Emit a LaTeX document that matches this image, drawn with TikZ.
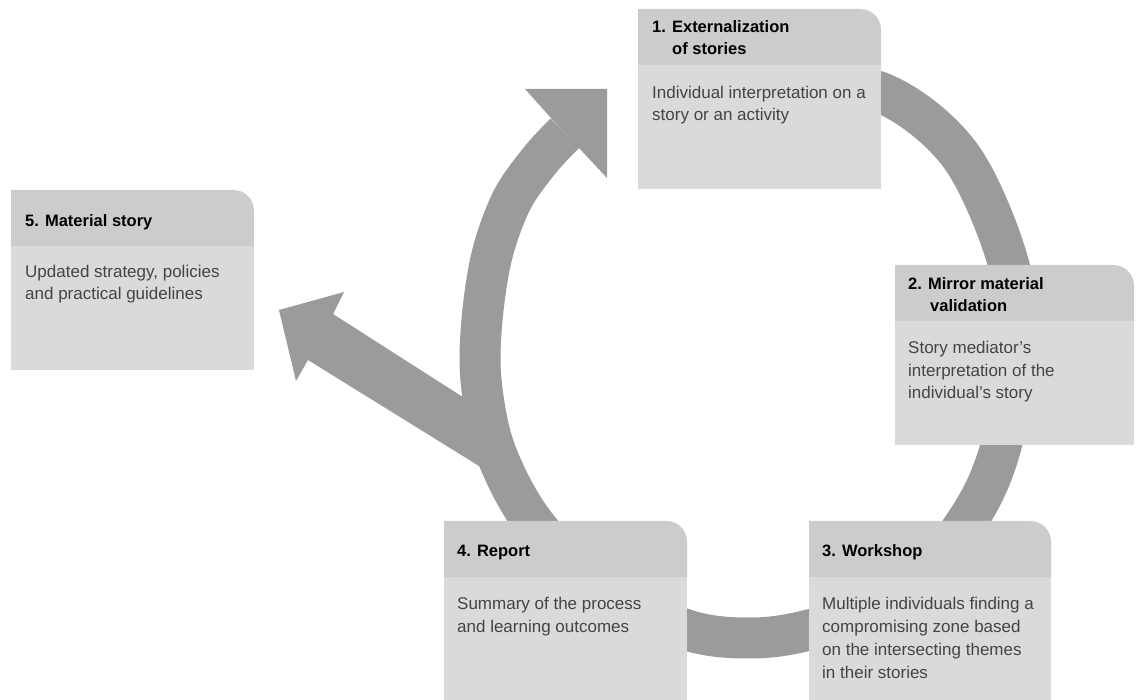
\documentclass[tikz,border=0pt]{standalone}
\usepackage{fontspec}
\setmainfont{Liberation Sans}
\usetikzlibrary{calc}
\definecolor{ringcol}{RGB}{155,155,155}
\definecolor{headcol}{RGB}{204,204,204}
\definecolor{bodycol}{RGB}{218,218,218}
\definecolor{textcol}{RGB}{68,68,68}
% #1 x0, #2 y0, #3 x1, #4 y1, #5 header bottom
\newcommand\cardshape[5]{%
  \fill[bodycol] (#1,#5) -- (#1,#4) -- (#3,#4) -- (#3,#5) -- cycle;
  \fill[headcol] (#1,#5) -- (#1,#2) -- ({#3-21},#2) .. controls ({#3-9},#2) and (#3,{#2+9}) .. (#3,{#2+21}) -- (#3,#5) -- cycle;
}
\begin{document}
\begin{tikzpicture}[x=1pt,y=-1pt,
  titletext/.style={anchor=base west, inner sep=0pt, align=left,
    font=\fontsize{16.5}{22.5}\selectfont\bfseries, text=black},
  bodytext/.style={anchor=base west, inner sep=0pt, align=left,
    font=\fontsize{17}{22.8}\selectfont, text=textcol},
  cardbox/.style={inner sep=0pt, outer sep=0pt, anchor=north west},
  ring/.style={draw=ringcol, line width=41pt, line cap=butt, line join=round},
  headfill/.style={fill=ringcol}]
\useasboundingbox (0,0) rectangle (1136,700);

% ---- cycle ring (from card 1 round to the arrow head before card 1)
\draw[ring] plot[smooth, tension=0.55] coordinates {
  (780,80) (882,93) (960,155) (1008,262) (1015,350) (1001,446) (969,518)
  (900,600) (809,630) (750,638) (687,630) (600,590) (533,522)
  (495,450) (481,380) (482,320) (492,255) (512,200) (540,160) (565,133)};
% arrow head pointing to card 1
\coordinate (tipA) at (607,89);
\fill[headfill] (tipA) -- (525,89) -- (551,118) -- (579,148) -- (607,178) -- cycle;

% ---- branch arrow towards card 5
\coordinate (tipB) at (279,310);
\fill[headfill] (tipB) -- (344,292) -- (333,314) -- (480,408) -- (500,479)
  -- (308,360) -- (296,381) -- cycle;

% ---- cards (text nodes are placed at the baseline of their last line)
\node[cardbox, minimum width=243pt, minimum height=180pt] (c1) at (638,9) {};
\cardshape{638}{9}{881}{189}{65}
\node[titletext] (t1) at (652,55) {1. Externalization\\\hspace*{20pt}of stories};
\node[bodytext] (b1) at (652,121) {Individual interpretation on a\\story or an activity};

\node[cardbox, minimum width=243pt, minimum height=180pt] (c5) at (11,190) {};
\cardshape{11}{190}{254}{370}{246}
\node[titletext] (t5) at (25,227) {5. Material story};
\node[bodytext] (b5) at (25,300) {Updated strategy, policies\\and practical guidelines};

\node[cardbox, minimum width=239pt, minimum height=180pt] (c2) at (895,265) {};
\cardshape{895}{265}{1134}{445}{321}
\node[titletext] (t2) at (908,312) {2. Mirror material\\\hspace*{22pt}validation};
\node[bodytext] (b2) at (908,399) {Story mediator’s\\interpretation of the\\individual’s story};

\node[cardbox, minimum width=242pt, minimum height=179pt] (c3) at (809,521) {};
\cardshape{809}{521}{1051}{700}{577}
\node[titletext] (t3) at (822,557) {3. Workshop};
\node[bodytext] (b3) at (822,678) {Multiple individuals finding a\\compromising zone based\\on the intersecting themes\\in their stories};

\node[cardbox, minimum width=243pt, minimum height=179pt] (c4) at (444,521) {};
\cardshape{444}{521}{687}{700}{577}
\node[titletext] (t4) at (457,557) {4. Report};
\node[bodytext] (b4) at (457,632) {Summary of the process\\and learning outcomes};
\end{tikzpicture}
\end{document}
